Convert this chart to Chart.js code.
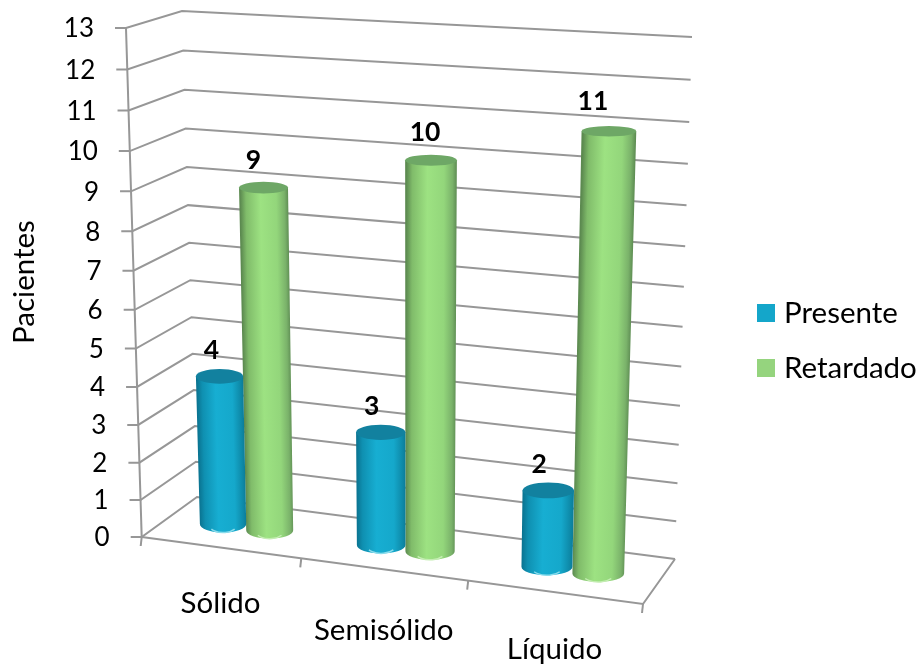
<!DOCTYPE html>
<html>
<head>
<meta charset="utf-8">
<style>
  body { margin: 0; background: #fff; }
  canvas { display: block; }
</style>
<script src="https://cdn.jsdelivr.net/npm/chart.js@4"></script>
</head>
<body>
<canvas id="pacientes" width="923" height="668"></canvas>
<script>
const categories = ['Sólido', 'Semisólido', 'Líquido'];
const presente = [4, 3, 2];
const retardado = [9, 10, 11];
const yMax = 13;
const axisTitle = 'Pacientes';

const fontFamily = 'Lato, "Open Sans", sans-serif';
const wordFont = '29.5px ' + fontFamily;
const digitFont = '26px ' + fontFamily;
const valueFont = 'bold 26.5px ' + fontFamily;
const gridColor = '#979797';

// box of the 3D scene: corners in order u0v0, u1v0, u1v1, u0v1
const frontPlane = [[141.7, 537], [643, 604], [660, 61], [126, 28]];
const backPlane = [[197, 497], [675, 559], [692, 37], [182, 11]];

// hand placement of the text that does not follow the projection exactly
const categoryDrop = [56, 61, 57];
const valueNudge = [[[-8, -26], [-9, -26], [-9, -26]], [[-10, -27], [-6, -28], [-16, -30]]];

function planeMap(q) {
  const [[x0, y0], [x1, y1], [x2, y2], [x3, y3]] = q;
  const dx1 = x1 - x2, dx2 = x3 - x2, sx = x0 - x1 + x2 - x3;
  const dy1 = y1 - y2, dy2 = y3 - y2, sy = y0 - y1 + y2 - y3;
  const den = dx1 * dy2 - dx2 * dy1;
  const g = (sx * dy2 - dx2 * sy) / den;
  const h = (dx1 * sy - sx * dy1) / den;
  const a = x1 - x0 + g * x1, b = x3 - x0 + h * x3;
  const d = y1 - y0 + g * y1, e = y3 - y0 + h * y3;
  return (u, v) => {
    const w = g * u + h * v + 1;
    return [(a * u + b * v + x0) / w, (d * u + e * v + y0) / w];
  };
}
const front = planeMap(frontPlane);
const back = planeMap(backPlane);

// depth 0 is the front plane, 1 the back wall
function project(u, v, depth) {
  const f = front(u, v), b = back(u, v);
  return [f[0] + (b[0] - f[0]) * depth, f[1] + (b[1] - f[1]) * depth];
}

function strokePath(ctx, pts, color, width) {
  ctx.beginPath();
  pts.forEach((p, i) => i ? ctx.lineTo(p[0], p[1]) : ctx.moveTo(p[0], p[1]));
  ctx.strokeStyle = color;
  ctx.lineWidth = width;
  ctx.stroke();
}

function putText(ctx, text, x, y, font, align) {
  ctx.fillStyle = '#000';
  ctx.font = font;
  ctx.textAlign = align;
  ctx.textBaseline = 'middle';
  ctx.fillText(text, x, y);
}

function drawWalls(chart) {
  const ctx = chart.ctx;
  const yScale = chart.scales.y, xScale = chart.scales.x;
  const area = chart.chartArea;
  const vOf = val => (area.bottom - yScale.getPixelForValue(val)) / (area.bottom - area.top);
  ctx.save();
  yScale.ticks.forEach(t => {
    const v = vOf(t.value);
    const p = project(0, v, 0);
    strokePath(ctx, [[p[0] - 11, p[1]], p, project(0, v, 1), project(1, v, 1)], gridColor, 2);
    putText(ctx, String(t.value), p[0] - 32, p[1] + 1, digitFont, 'right');
  });
  // value axis, floor edges and category separators
  strokePath(ctx, [project(0, 0, 0), project(0, 1, 0)], gridColor, 2);
  strokePath(ctx, [project(0, 0, 0), project(1, 0, 0), project(1, 0, 1)], gridColor, 2);
  for (let i = 0; i <= categories.length; i++) {
    const p = project(i / categories.length, 0, 0);
    strokePath(ctx, [p, [p[0] - 1, p[1] + 9]], gridColor, 2);
  }
  // category names sit below the front floor edge
  categories.forEach((name, i) => {
    const u = (xScale.getPixelForValue(i) - area.left) / (area.right - area.left);
    const p = project(u, 0, 0);
    putText(ctx, name, p[0], p[1] + categoryDrop[i], wordFont, 'center');
  });
  ctx.translate(24, 282);
  ctx.rotate(-Math.PI / 2);
  putText(ctx, axisTitle, 0, 0, wordFont, 'center');
  ctx.restore();
}

function drawLegend(chart) {
  const ctx = chart.ctx;
  chart.data.datasets.forEach((ds, i) => {
    const y = 313 + i * 55;
    ctx.fillStyle = ds.backgroundColor;
    ctx.fillRect(757, y - 9, 18, 18);
    putText(ctx, ds.label, 784, y, wordFont, 'left');
  });
}

const capRadius = value => 8.5 - value * 0.3;

function drawCylinder(ctx, chart, bar, value, look, nudge) {
  const area = chart.chartArea;
  const w = area.right - area.left, h = area.bottom - area.top;
  const uL = (bar.x - bar.width / 2 - area.left) / w;
  const uR = (bar.x + bar.width / 2 - area.left) / w;
  const vTop = (area.bottom - bar.y) / h;
  const vBase = (area.bottom - bar.base) / h;
  const depth = 0.5;
  const bl = project(uL, vBase, depth), br = project(uR, vBase, depth);
  const tl = project(uL, vTop, depth), tr = project(uR, vTop, depth);
  const baseC = [(bl[0] + br[0]) / 2, (bl[1] + br[1]) / 2];
  const topC = [(tl[0] + tr[0]) / 2, (tl[1] + tr[1]) / 2];
  const baseRx = (br[0] - bl[0]) / 2, topRx = (tr[0] - tl[0]) / 2;
  const baseRy = capRadius(0), topRy = capRadius(value);
  const lean = (topC[0] - baseC[0]) / (topC[1] - baseC[1]);

  // body: side edges closed by the lower half of the base ellipse
  ctx.save();
  ctx.beginPath();
  ctx.moveTo(topC[0] - topRx, topC[1]);
  ctx.lineTo(baseC[0] - baseRx, baseC[1]);
  ctx.ellipse(baseC[0], baseC[1], baseRx, baseRy, 0, Math.PI, 0, true);
  ctx.lineTo(topC[0] + topRx, topC[1]);
  ctx.closePath();
  ctx.clip();
  // shear so the shading runs along the leaning cylinder
  ctx.transform(1, 0, lean, 1, -lean * baseC[1], 0);
  const grad = ctx.createLinearGradient(baseC[0] - baseRx, 0, baseC[0] + baseRx + 1, 0);
  look.stops.forEach(s => grad.addColorStop(s[0], s[1]));
  ctx.fillStyle = grad;
  ctx.fillRect(baseC[0] - baseRx - 5, topC[1] - 2, baseRx * 2 + 10, baseC[1] - topC[1] + baseRy + 4);
  ctx.restore();

  // pale rim along the bottom
  ctx.beginPath();
  ctx.ellipse(baseC[0], baseC[1], baseRx * 0.62, baseRy, 0, Math.PI * 0.2, Math.PI * 0.8);
  ctx.strokeStyle = look.rim;
  ctx.lineWidth = 1.5;
  ctx.stroke();

  ctx.beginPath();
  ctx.ellipse(topC[0], topC[1], topRx, topRy, 0, 0, Math.PI * 2);
  ctx.fillStyle = look.cap;
  ctx.fill();

  // value above the cap
  putText(ctx, String(value), topC[0] + nudge[0], topC[1] + nudge[1], valueFont, 'center');
}

const looks = [
  {
    cap: '#12819f', rim: '#8adcec',
    stops: [[0, '#0a7390'], [0.12, '#0f90b1'], [0.4, '#17aed2'], [0.75, '#15a8cb'], [0.92, '#0e8aa9'], [1, '#0b7995']]
  },
  {
    cap: '#6ea766', rim: '#c4edb2',
    stops: [[0, '#5c8a50'], [0.12, '#80bc6a'], [0.42, '#9de282'], [0.75, '#93d67b'], [0.92, '#7ab26a'], [1, '#5f8e54']]
  }
];

const scene3d = {
  id: 'scene3d',
  beforeDatasetsDraw(chart) {
    drawWalls(chart);
    drawLegend(chart);
  },
  beforeDatasetDraw(chart, args) {
    const ctx = chart.ctx;
    ctx.save();
    const ds = chart.data.datasets[args.index];
    args.meta.data.forEach((bar, i) => {
      drawCylinder(ctx, chart, bar, ds.data[i], looks[args.index], valueNudge[args.index][i]);
    });
    ctx.restore();
    return false;
  }
};

new Chart(document.getElementById('pacientes'), {
  type: 'bar',
  data: {
    labels: categories,
    datasets: [
      { label: 'Presente', data: presente, backgroundColor: '#14a6ca', borderWidth: 0 },
      { label: 'Retardado', data: retardado, backgroundColor: '#95d47e', borderWidth: 0 }
    ]
  },
  options: {
    responsive: false,
    animation: false,
    categoryPercentage: 0.6,
    barPercentage: 1,
    scales: {
      x: { display: false },
      y: { display: false, min: 0, max: yMax, ticks: { stepSize: 1 } }
    },
    plugins: {
      tooltip: { enabled: false },
      legend: { display: false }
    }
  },
  plugins: [scene3d]
});
</script>
</body>
</html>
